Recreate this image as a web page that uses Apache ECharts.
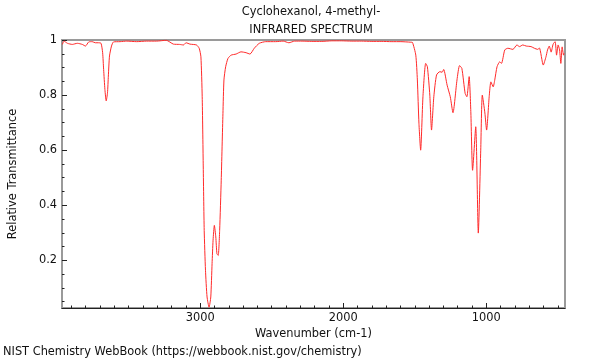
<!DOCTYPE html>
<html>
<head>
<meta charset="utf-8">
<script src="https://cdn.jsdelivr.net/npm/echarts@6/dist/echarts.min.js"></script>
<style>
html,body{margin:0;padding:0;background:#fff;}
#chart{width:600px;height:360px;}
</style>
</head>
<body>
<div id="chart"></div>
<script>
var titleLine1 = "Cyclohexanol, 4-methyl-";
var titleLine2 = "INFRARED SPECTRUM";
var xAxisTitle = "Wavenumber (cm-1)";
var yAxisTitle = "Relative Transmittance";
var footerText = "NIST Chemistry WebBook (https://webbook.nist.gov/chemistry)";

var xMajorTicks = [1000, 2000, 3000];
var xMinorTicks = [500,600,700,800,900,1100,1200,1300,1400,1500,1600,1700,1800,1900,2100,2200,2300,2400,2500,2600,2700,2800,2900,3100,3200,3300,3400,3500,3600,3700,3800,3900];
var yMajorTicks = [0.2, 0.4, 0.6, 0.8, 1];
var yMinorTicks = [0.05,0.1,0.15,0.25,0.3,0.35,0.45,0.5,0.55,0.65,0.7,0.75,0.85,0.9,0.95];

var wavenumbers = [
3963,3952,3928,3894,3859,3824,3802,3779,3755,3733,3710,3693,3682,3675,3666,3657,3648,3642,3634,3620,
3606,3560,3513,3444,3375,3306,3237,3187,3145,3117,3099,3071,3026,3007,2995,2986,2979,2972,2963,2952,
2938,2926,2917,2910,2901,2891,2883,2874,2864,2853,2841,2834,2822,2806,2784,2749,2715,2680,2652,2622,
2587,2542,2473,2420,2380,2340,2288,2220,2150,2080,2012,1940,1874,1800,1735,1660,1597,1528,1516,1493,
1482,1471,1459,1443,1424,1412,1395,1383,1367,1348,1325,1309,1298,1274,1252,1233,1205,1187,1171,1148,
1136,1120,1108,1096,1074,1056,1039,1028,1010,998,980,968,952,941,925,906,894,871,849,814,
786,768,745,721,687,664,641,629,602,583,572,560,547,533,519,509,498,488,479,470,
460,457
];
var transmittance = [
0.984,0.996,0.988,0.984,0.988,0.984,0.978,0.993,0.994,0.990,0.990,0.988,0.954,0.893,0.820,0.779,0.808,0.869,0.942,0.978,
0.993,0.994,0.996,0.994,0.996,0.996,0.999,0.985,0.984,0.982,0.990,0.985,0.982,0.970,0.939,0.794,0.553,0.309,0.164,0.067,
0.030,0.067,0.188,0.273,0.327,0.285,0.224,0.218,0.309,0.491,0.733,0.855,0.903,0.933,0.945,0.949,0.957,0.954,0.949,0.970,
0.988,0.994,0.994,0.996,0.990,0.996,0.996,0.995,0.995,0.997,0.997,0.996,0.996,0.995,0.995,0.994,0.994,0.992,0.991,0.945,
0.855,0.698,0.600,0.794,0.915,0.903,0.800,0.673,0.794,0.873,0.885,0.883,0.893,0.836,0.794,0.736,0.855,0.907,0.897,0.806,
0.794,0.867,0.735,0.527,0.685,0.299,0.600,0.800,0.735,0.673,0.794,0.848,0.830,0.855,0.903,0.921,0.915,0.964,0.970,0.966,
0.982,0.976,0.982,0.978,0.976,0.970,0.966,0.971,0.909,0.939,0.964,0.978,0.956,0.985,0.994,0.945,0.982,0.964,0.915,0.975,
0.945,0.952
];

var seriesData = wavenumbers.map(function (w, i) { return [w, transmittance[i]]; });

var FONT = "DejaVu Sans";
var FS = 11.4;
var X_MIN = 450, X_MAX = 3966, Y_MIN = 0.027, Y_MAX = 1;
function plain(v) { return String(v); }

var chart = echarts.init(document.getElementById('chart'), null, {renderer: 'canvas'});
chart.setOption({
  animation: false,
  backgroundColor: '#fff',
  textStyle: {fontFamily: FONT},
  grid: {left: 57, right: 35, top: 40, bottom: 52, show: true, borderColor: '#9a9a9a', borderWidth: 2, containLabel: false},
  xAxis: [{
    type: 'value', min: X_MIN, max: X_MAX, inverse: true, position: 'bottom',
    name: xAxisTitle, nameLocation: 'middle', nameGap: 19,
    nameTextStyle: {fontFamily: FONT, fontSize: FS, color: '#111'},
    axisLine: {show: true, lineStyle: {color: '#222', width: 1}},
    axisTick: {show: true, inside: true, length: 5, customValues: xMajorTicks, lineStyle: {color: '#222'}},
    axisLabel: {show: true, customValues: xMajorTicks, formatter: plain, margin: 5, fontFamily: FONT, fontSize: FS, color: '#111'},
    splitLine: {show: false}
  }, {
    type: 'value', min: X_MIN, max: X_MAX, inverse: true, position: 'bottom', offset: 0,
    axisLine: {show: false},
    axisTick: {show: true, inside: true, length: 2.5, customValues: xMinorTicks, lineStyle: {color: '#222'}},
    axisLabel: {show: false},
    splitLine: {show: false}
  }],
  yAxis: [{
    type: 'value', min: Y_MIN, max: Y_MAX, position: 'left',
    name: yAxisTitle, nameLocation: 'middle', nameGap: 43, nameRotate: 90,
    nameTextStyle: {fontFamily: FONT, fontSize: FS, color: '#111'},
    axisLine: {show: true, lineStyle: {color: '#9a9a9a', width: 2}},
    axisTick: {show: true, inside: true, length: 5, customValues: yMajorTicks, lineStyle: {color: '#222'}},
    axisLabel: {show: true, customValues: yMajorTicks, formatter: plain, margin: 5, fontFamily: FONT, fontSize: FS, color: '#111'},
    splitLine: {show: false}
  }, {
    type: 'value', min: Y_MIN, max: Y_MAX, position: 'left', offset: 0,
    axisLine: {show: false},
    axisTick: {show: true, inside: true, length: 2.5, customValues: yMinorTicks, lineStyle: {color: '#222'}},
    axisLabel: {show: false},
    splitLine: {show: false}
  }],
  series: [{
    type: 'line', xAxisIndex: 0, yAxisIndex: 0,
    data: seriesData, showSymbol: false, smooth: 0.2, clip: true,
    lineStyle: {color: '#ff2a2a', width: 1}
  }],
  graphic: [
    {type: 'text', x: 311, y: 12, style: {text: titleLine1, fontFamily: FONT, fontSize: FS, fill: '#111', align: 'center', verticalAlign: 'middle'}},
    {type: 'text', x: 311, y: 30, style: {text: titleLine2, fontFamily: FONT, fontSize: FS, fill: '#111', align: 'center', verticalAlign: 'middle'}},
    {type: 'text', x: 3, y: 352, style: {text: footerText, fontFamily: FONT, fontSize: FS, fill: '#111', align: 'left', verticalAlign: 'middle'}}
  ]
});
</script>
</body>
</html>
